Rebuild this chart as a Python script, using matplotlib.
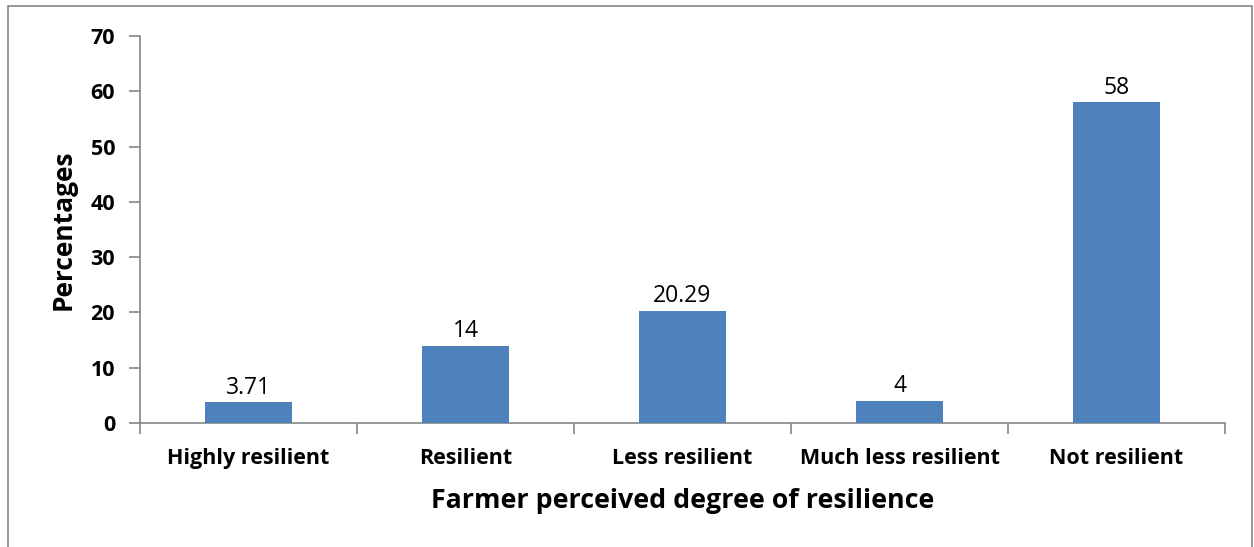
import matplotlib
matplotlib.use("Agg")
import matplotlib.pyplot as plt
from matplotlib.patches import Rectangle

categories = ["Highly resilient", "Resilient", "Less resilient", "Much less resilient", "Not resilient"]
values = [3.71, 14, 20.29, 4, 58]
labels = ["3.71", "14", "20.29", "4", "58"]
yticks = [0, 10, 20, 30, 40, 50, 60, 70]

plt.rcParams['font.family'] = ['Open Sans', 'DejaVu Sans']

W, H = 1254, 547
fig = plt.figure(figsize=(W/100, H/100), dpi=100)
ax = fig.add_axes([140/W, 1-423/H, (1225-140)/W, (423-36)/H])

x = list(range(len(categories)))
ax.bar(x, values, width=0.4, color="#4F81BD", zorder=3)
for xi, v, lab in zip(x, values, labels):
    ax.annotate(lab, (xi, v), xytext=(0, 2), textcoords="offset points",
                ha="center", va="bottom", fontsize=16.5, color="black")

ax.set_xlim(-0.5, len(categories) - 0.5)
ax.set_ylim(0, 70)
ax.set_yticks(yticks)
ax.set_yticklabels([str(t) for t in yticks], fontsize=15.5, fontweight="bold")
ax.set_xticks(x)
ax.set_xticklabels(categories, fontsize=15.5, fontweight="bold")
ax.tick_params(axis="x", length=0, pad=18)
ax.tick_params(axis="y", length=8, width=1.2, color="#868686", pad=10)
# category boundary ticks
ax.set_xticks([i - 0.5 for i in range(len(categories) + 1)], minor=True)
ax.tick_params(axis="x", which="minor", length=8, width=1.2, color="#868686", direction="out")

for s in ["top", "right"]:
    ax.spines[s].set_visible(False)
for s in ["left", "bottom"]:
    ax.spines[s].set_color("#868686")
    ax.spines[s].set_linewidth(1.2)

ax.set_ylabel("Percentages", fontsize=19, fontweight="bold", labelpad=10)
ax.set_xlabel("Farmer perceived degree of resilience", fontsize=19.3, fontweight="bold", labelpad=14)

fig.patches.append(Rectangle((8/W, -0.05), (1252-8)/W, 1-6/H + 0.05, transform=fig.transFigure,
                             fill=False, edgecolor="#868686", linewidth=1.2))

fig.savefig("out.png", dpi=100)
